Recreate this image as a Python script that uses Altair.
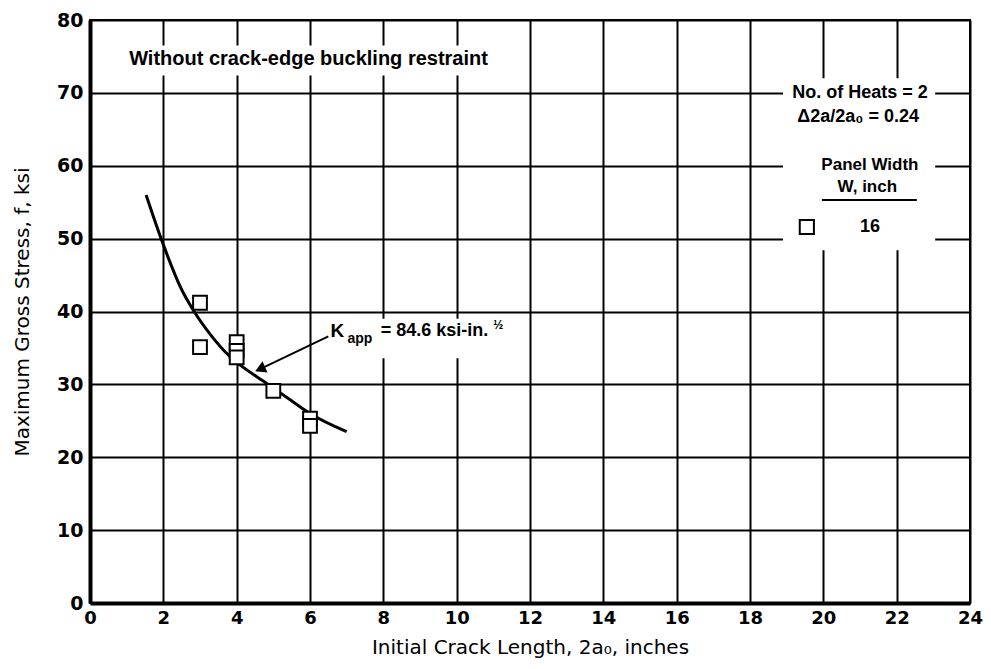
import altair as alt
import pandas as pd

# Test data (W = 16 inch panels)
crack_len = [3, 3, 4, 4, 4, 5, 6, 6]
stress = [41.2, 35.1, 35.8, 34.6, 33.7, 29.1, 25.3, 24.3]

# K_app curve
curve_x = [1.53, 1.94, 2.21, 2.48, 2.84, 3.29, 3.8, 4.11, 4.83, 5.37, 6.0, 7.0]
curve_y = [56.0, 50.0, 46.4, 43.2, 40.0, 36.8, 33.9, 32.6, 30.1, 28.2, 26.0, 23.5]

x_ticks = list(range(0, 25, 2))
y_ticks = list(range(0, 81, 10))

FONT = "Liberation Sans"
AXFONT = "DejaVu Sans"

xs = alt.Scale(domain=[0, 24], nice=False, zero=False)
ys = alt.Scale(domain=[0, 80], nice=False, zero=False)

pts = pd.DataFrame({"x": crack_len, "y": stress})
crv = pd.DataFrame({"x": curve_x, "y": curve_y})

base_x = alt.X("x:Q", scale=xs, axis=alt.Axis(
    values=x_ticks, title="Initial Crack Length, 2a\u2080, inches",
    grid=True, gridColor="black", gridWidth=2, gridOpacity=1,
    domainColor="black", domainWidth=4, ticks=False,
    labelFont=AXFONT, labelFontWeight="bold", labelFontSize=18, labelColor="black",
    labelPadding=6, titleFont=AXFONT, titleFontWeight="normal", titleFontSize=20,
    titleColor="black", titlePadding=10, labelFlush=False))
base_y = alt.Y("y:Q", scale=ys, axis=alt.Axis(
    values=y_ticks, title="Maximum Gross Stress, f, ksi",
    grid=True, gridColor="black", gridWidth=2, gridOpacity=1,
    domainColor="black", domainWidth=4, ticks=False,
    labelFont=AXFONT, labelFontWeight="bold", labelFontSize=19, labelColor="black",
    labelPadding=7, titleFont=AXFONT, titleFontWeight="normal", titleFontSize=20,
    titleColor="black", titlePadding=24, labelFlush=False))

points = alt.Chart(pts).mark_point(shape="square", size=190, filled=True, fill="white",
                                   stroke="black", strokeWidth=2, opacity=1).encode(x=base_x, y=base_y)
curve = alt.Chart(crv).mark_line(color="black", strokeWidth=3, interpolate="monotone").encode(
    x=alt.X("x:Q", scale=xs), y=alt.Y("y:Q", scale=ys))

# White boxes behind annotations
boxes = pd.DataFrame({
    "x": [0.77, 18.9, 6.45], "x2": [11.15, 23.05, 11.7],
    "y": [76.5, 72.0, 39.0], "y2": [72.4, 48.4, 33.6]})
box_layer = alt.Chart(boxes).mark_rect(color="white").encode(
    x=alt.X("x:Q", scale=xs), x2="x2", y=alt.Y("y:Q", scale=ys), y2="y2")

# Arrow
arrow = pd.DataFrame({"x": [6.5], "y": [36.6], "x2": [4.55], "y2": [31.9]})
arrow_line = alt.Chart(arrow).mark_rule(color="black", strokeWidth=2).encode(
    x=alt.X("x:Q", scale=xs), y=alt.Y("y:Q", scale=ys), x2="x2", y2="y2")
head = pd.DataFrame({"x": [4.64], "y": [32.1]})
arrow_head = alt.Chart(head).mark_point(shape="triangle-up", angle=246, size=150, filled=True,
                                        color="black", opacity=1).encode(
    x=alt.X("x:Q", scale=xs), y=alt.Y("y:Q", scale=ys))

# Centered bold texts
ctext = pd.DataFrame({
    "x": [5.96, 21.0, 20.95, 21.27, 21.2, 21.27],
    "y": [74.7, 70.0, 66.7, 60.1, 57.1, 51.6],
    "t": ["Without crack-edge buckling restraint", "No. of Heats = 2",
          "\u03942a/2a\u2080 = 0.24", "Panel Width", "W, inch", "16"],
    "s": [20, 18, 18, 17, 17, 18]})
ctext_layer = alt.Chart(ctext).mark_text(font=FONT, fontWeight="bold", color="black",
                                         align="center", baseline="middle").encode(
    x=alt.X("x:Q", scale=xs), y=alt.Y("y:Q", scale=ys), text="t:N",
    size=alt.Size("s:Q", scale=None, legend=None))

# K_app label
ktext = pd.DataFrame({
    "x": [6.56, 7.02, 7.93, 11.0], "y": [37.3, 36.2, 37.3, 38.1],
    "t": ["K", "app", "= 84.6 ksi-in.", "\u00bd"], "s": [19, 14, 18, 12]})
ktext_layer = alt.Chart(ktext).mark_text(font=FONT, fontWeight="bold", color="black",
                                         align="left", baseline="middle").encode(
    x=alt.X("x:Q", scale=xs), y=alt.Y("y:Q", scale=ys), text="t:N",
    size=alt.Size("s:Q", scale=None, legend=None))

# Legend underline and symbol
uline = pd.DataFrame({"x": [19.96], "x2": [22.55], "y": [55.3]})
uline_layer = alt.Chart(uline).mark_rule(color="black", strokeWidth=2).encode(
    x=alt.X("x:Q", scale=xs), x2="x2", y=alt.Y("y:Q", scale=ys))
lsym = pd.DataFrame({"x": [19.55], "y": [51.6]})
lsym_layer = alt.Chart(lsym).mark_point(shape="square", size=200, filled=True, fill="white",
                                        stroke="black", strokeWidth=2, opacity=1).encode(
    x=alt.X("x:Q", scale=xs), y=alt.Y("y:Q", scale=ys))

chart = alt.layer(box_layer, curve, points, arrow_line, arrow_head, ctext_layer,
                  ktext_layer, uline_layer, lsym_layer).properties(
    width=880, height=583,
    autosize=alt.AutoSizeParams(type="none"),
    padding={"left": 82, "top": 12, "right": 13, "bottom": 58},
    background="white",
).configure_view(stroke="black", strokeWidth=2)

chart.save("out.html", embed_options={"renderer": "svg", "actions": False})
